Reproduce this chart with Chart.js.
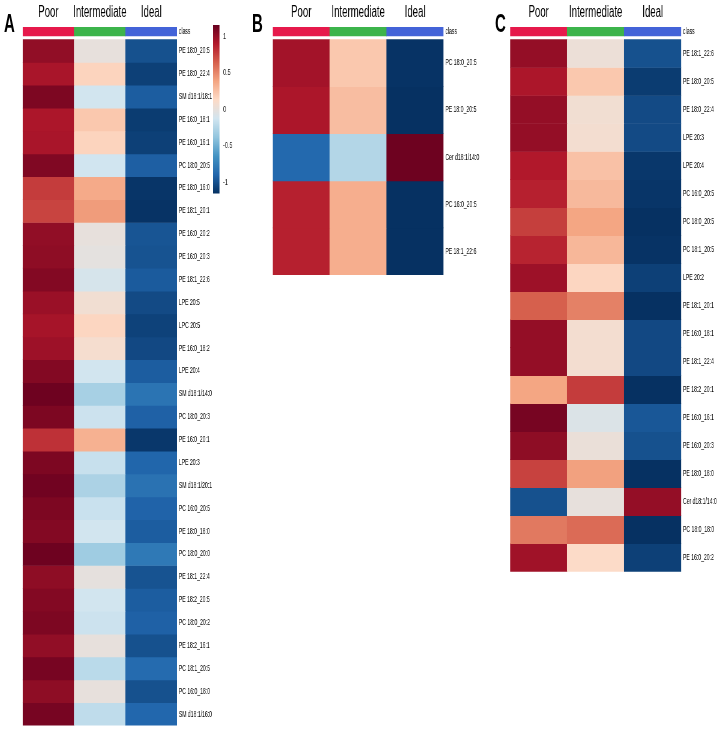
<!DOCTYPE html>
<html>
<head>
<meta charset="utf-8">
<script src="https://cdn.jsdelivr.net/npm/chart.js@4.4.1/dist/chart.umd.min.js"></script>
<style>
html,body{margin:0;padding:0;background:#fff;width:724px;height:734px;overflow:hidden;position:relative}
#wrap{position:absolute;left:0;top:0;width:1206.67px;height:734px;transform:scaleX(0.6);transform-origin:0 0}
.box{position:absolute}
.letter{position:absolute;font-weight:bold;font-size:25px;line-height:1;font-family:'Liberation Sans',Arial,sans-serif;color:#000}
</style>
</head>
<body>
<div id="wrap">
<div class="letter" style="left:6.7px;top:11px">A</div>
<div class="letter" style="left:420px;top:11px">B</div>
<div class="letter" style="left:825px;top:11px">C</div>
<div class="box" style="left:0;top:0;width:358.3px;height:734px"><canvas id="cA"></canvas></div>
<div class="box" style="left:400px;top:0;width:416.7px;height:290px"><canvas id="cB"></canvas></div>
<div class="box" style="left:816.7px;top:0;width:390px;height:590px"><canvas id="cC"></canvas></div>
<div class="box" style="left:355px;top:0;width:50px;height:205px"><canvas id="cBar"></canvas></div>
</div>
<script>
// ---------------- data ----------------
const groups = ['Poor', 'Intermediate', 'Ideal'];
const classColors = ['#e6194b', '#3cb44b', '#4363d8'];

const rowsA = ['PE 18:0_20:5','PE 18:0_22:4','SM d18:1/18:1','PE 16:0_18:1','PE 16:0_16:1','PC 18:0_20:5',
  'PE 18:0_16:0','PE 18:1_20:1','PE 16:0_20:2','PE 16:0_20:3','PE 18:1_22:6','LPE 20:5','LPC 20:5',
  'PE 16:0_18:2','LPE 20:4','SM d18:1/14:0','PC 18:0_20:3','PE 16:0_20:1','LPE 20:3','SM d18:1/20:1',
  'PC 16:0_20:5','PE 18:0_18:0','PC 18:0_20:0','PE 18:1_22:4','PE 18:2_20:5','PC 18:0_20:2',
  'PE 18:2_16:1','PC 18:1_20:5','PC 16:0_18:0','SM d18:1/16:0'];
const poorA  = [1.01,0.93,1.08,0.92,0.93,1.07,0.77,0.74,1.01,1.02,1.06,0.98,0.94,0.97,1.06,1.13,1.08,0.81,1.08,1.12,
  1.08,1.06,1.13,1.02,1.06,1.08,1.01,1.10,1.02,1.10];
const interA = [0.00,0.16,-0.12,0.22,0.16,-0.13,0.36,0.42,0.00,-0.02,-0.10,0.06,0.15,0.08,-0.12,-0.30,-0.15,0.33,-0.17,-0.28,
  -0.16,-0.12,-0.33,-0.01,-0.12,-0.15,0.00,-0.22,0.00,-0.20];
const idealA = [-1.00,-1.08,-0.94,-1.10,-1.08,-0.93,-1.13,-1.14,-0.98,-0.99,-0.95,-1.03,-1.07,-1.04,-0.94,-0.82,-0.92,-1.12,-0.90,-0.83,
  -0.91,-0.94,-0.79,-0.99,-0.94,-0.92,-1.00,-0.87,-1.00,-0.89];

const rowsB = ['PC 18:0_20:5','PE 18:0_20:5','Cer d18:1/14:0','PC 16:0_20:5','PE 18:1_22:6'];
const poorB  = [0.95, 0.92, -0.88, 0.87, 0.87];
const interB = [0.22, 0.27, -0.25, 0.34, 0.34];
const idealB = [-1.14, -1.15, 1.13, -1.15, -1.15];

const rowsC = ['PE 18:1_22:6','PE 18:0_20:5','PE 18:0_22:4','LPE 20:3','LPE 20:4','PC 16:0_20:5','PC 18:0_20:5',
  'PC 18:1_20:5','LPE 20:2','PE 18:1_20:1','PE 16:0_18:1','PE 18:1_22:4','PE 18:2_20:1','PE 16:0_16:1',
  'PE 16:0_20:3','PE 18:0_18:0','Cer d18:1/14:0','PC 18:0_18:0','PE 16:0_20:2'];
const poorC  = [1.00,0.92,1.00,1.00,0.90,0.87,0.76,0.86,0.97,0.64,1.00,1.00,0.38,1.10,1.02,0.75,-1.00,0.55,0.96];
const interC = [0.03,0.22,0.06,0.07,0.25,0.29,0.38,0.30,0.15,0.52,0.07,0.07,0.77,-0.07,0.02,0.40,0.00,0.60,0.12];
const idealC = [-1.00,-1.10,-1.03,-1.03,-1.12,-1.13,-1.15,-1.14,-1.08,-1.15,-1.04,-1.04,-1.15,-0.97,-1.00,-1.15,1.00,-1.15,-1.08];

const colorbarTicks = [-1, -0.5, 0, 0.5, 1];

// ---------------- colour scale ----------------
const VMAX = 1.1547;
const PALETTE = ['#053061','#2166ac','#4393c3','#92c5de','#d1e5f0','#fddbc7','#f4a582','#d6604d','#b2182b','#67001f'];
function hexRgb(h){return [1,3,5].map(i=>parseInt(h.slice(i,i+2),16));}
const PAL_RGB = PALETTE.map(hexRgb);
function colorFor(v){
  let t = (v + VMAX) / (2*VMAX);
  t = Math.max(0, Math.min(1, t));
  const f = t * (PAL_RGB.length - 1);
  const i = Math.min(PAL_RGB.length - 2, Math.floor(f));
  const u = f - i;
  const a = PAL_RGB[i], b = PAL_RGB[i+1];
  const c = a.map((x,k)=>Math.round(x + (b[k]-x)*u));
  return 'rgb(' + c.join(',') + ')';
}

Chart.defaults.font.family = "'Liberation Sans', Arial, sans-serif";
Chart.defaults.animation = false;

function makeHeatmap(id, rows, cols, g){
  const N = rows.length;
  const rowH = (g.bottom - g.top - g.classH - g.gap) / N;
  const yMin = -(g.classH + g.gap) / rowH;
  const classEnd = yMin + g.classH / rowH;
  const datasets = [{
    data: groups.map(() => [yMin, classEnd]),
    backgroundColor: classColors,
    grouped: false
  }];
  rows.forEach((name, r) => {
    datasets.push({
      label: name,
      data: groups.map(() => [r, r + 1]),
      backgroundColor: cols.map(col => colorFor(col[r])),
      grouped: false
    });
  });
  const tickVals = [(yMin + classEnd) / 2].concat(rows.map((_, r) => r + 0.5));
  const tickLabels = ['class'].concat(rows);
  return new Chart(document.getElementById(id), {
    type: 'bar',
    data: { labels: groups, datasets },
    options: {
      responsive: true, maintainAspectRatio: false,
      layout: { padding: { left: g.padLeft, right: 0, top: 0, bottom: g.canvasH - g.bottom } },
      datasets: { bar: { barPercentage: 1, categoryPercentage: 1, borderWidth: 0 } },
      plugins: { legend: { display: false }, tooltip: { enabled: false } },
      scales: {
        x: {
          type: 'category', position: 'top',
          grid: { display: false, drawTicks: false }, border: { display: false },
          ticks: { font: { size: 16 }, color: '#000', padding: 5, maxRotation: 0, autoSkip: false },
          afterFit: s => { s.height = g.top; }
        },
        y: {
          type: 'linear', position: 'right', reverse: true, min: yMin, max: N,
          grid: { display: false, drawTicks: false }, border: { display: false },
          ticks: { autoSkip: false, padding: 3, font: { size: 8.5 }, color: '#000',
                   callback: (v, i) => tickLabels[i] },
          afterBuildTicks: s => { s.ticks = tickVals.map(v => ({ value: v })); },
          afterFit: s => { s.width = g.labelW; }
        }
      }
    }
  });
}

// x geometry is given in the un-squeezed frame (the page squeezes the frame to 0.6 horizontally)
makeHeatmap('cA', rowsA, [poorA, interA, idealA],
  { padLeft: 37.8, labelW: 63.3, top: 27, bottom: 725.6, canvasH: 734, classH: 9, gap: 3.5 });
makeHeatmap('cB', rowsB, [poorB, interB, idealB],
  { padLeft: 54.5, labelW: 78.3, top: 27, bottom: 275, canvasH: 290, classH: 9, gap: 3.5 });
makeHeatmap('cC', rowsC, [poorC, interC, idealC],
  { padLeft: 33.3, labelW: 71.7, top: 27, bottom: 571.7, canvasH: 590, classH: 9, gap: 3.5 });

// colour key
new Chart(document.getElementById('cBar'), {
  type: 'bar',
  data: { labels: [''], datasets: [{
    data: [[-VMAX, VMAX]],
    backgroundColor: c => {
      const ch = c.chart;
      if (!ch.chartArea) return PALETTE[5];
      const y = ch.scales.y;
      const gr = ch.ctx.createLinearGradient(0, y.getPixelForValue(-VMAX), 0, y.getPixelForValue(VMAX));
      PALETTE.forEach((col, i) => gr.addColorStop(i / (PALETTE.length - 1), col));
      return gr;
    },
    barPercentage: 1, categoryPercentage: 1, borderWidth: 0
  }]},
  options: {
    responsive: true, maintainAspectRatio: false,
    layout: { padding: { left: 0, right: 0, top: 25, bottom: 8 } },
    plugins: { legend: { display: false }, tooltip: { enabled: false } },
    scales: {
      x: { display: false },
      y: {
        type: 'linear', position: 'right', min: -VMAX, max: VMAX,
        grid: { display: false, drawTicks: false }, border: { display: false },
        ticks: { autoSkip: false, padding: 6, font: { size: 9 }, color: '#222',
                 callback: v => String(v) },
        afterBuildTicks: s => { s.ticks = colorbarTicks.map(v => ({ value: v })); },
        afterFit: s => { s.width = 39.2; }
      }
    }
  }
});
</script>
</body>
</html>
